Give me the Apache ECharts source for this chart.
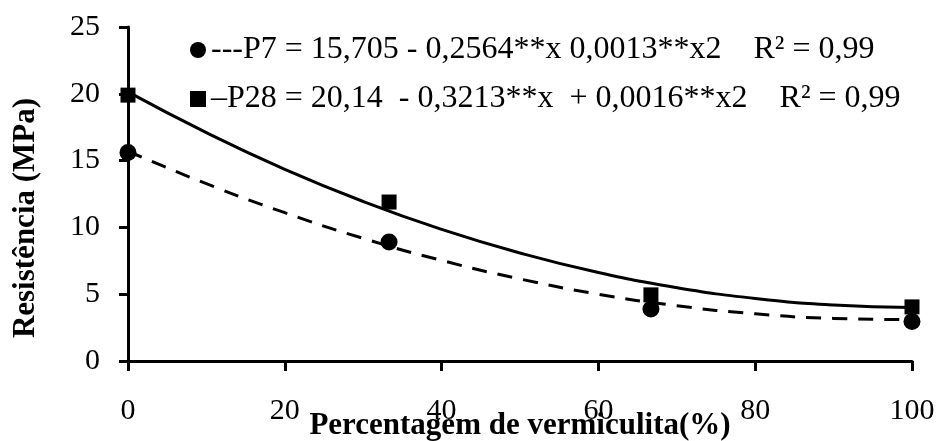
<!DOCTYPE html>
<html>
<head>
<meta charset="utf-8">
<script src="https://cdn.jsdelivr.net/npm/echarts@6/dist/echarts.min.js"></script>
<style>
  html, body { margin: 0; padding: 0; background: #fff; }
  #chart { width: 939px; height: 441px; }
</style>
</head>
<body>
<div id="chart"></div>
<script>
// pontos observados
var xObs = [0, 33.3, 66.7, 100]
var p7Obs = [15.6, 8.9, 3.9, 2.95]
var p28Obs = [19.9, 11.9, 4.95, 4.05]

// curvas de ajuste
var xFit = [0, 10, 20, 30, 40, 50, 60, 70, 80, 90, 100]
var p7Fit = [15.7, 13.27, 11.1, 9.18, 7.53, 6.14, 5.0, 4.14, 3.53, 3.19, 3.1]
var p28Fit = [20.14, 17.09, 14.35, 11.94, 9.85, 8.08, 6.62, 5.49, 4.68, 4.19, 4.01]

var legendText = {
  'P7': '---P7 = 15,705 - 0,2564**x 0,0013**x2    R² = 0,99',
  'P28': '\u2013P28 = 20,14  - 0,3213**x  + 0,0016**x2    R² = 0,99'
}

function pairs(xs, ys) {
  return xs.map(function (x, i) { return [x, ys[i]] })
}

var font = 'Liberation Serif'
var chart = echarts.init(document.getElementById('chart'), null, { renderer: 'canvas' })

var option = {
  animation: false,
  textStyle: { fontFamily: font, color: '#000' },
  grid: { left: 128, right: 27, top: 27, bottom: 80, containLabel: false, outerBoundsMode: 'none' },
  legend: {
    orient: 'vertical',
    left: 185,
    top: 29,
    itemGap: 17,
    itemWidth: 16,
    itemHeight: 16,
    data: [
      { name: 'P7', icon: 'circle' },
      { name: 'P28', icon: 'rect' }
    ],
    formatter: function (n) { return legendText[n] },
    textStyle: { fontFamily: font, fontSize: 32, color: '#000' }
  },
  xAxis: {
    type: 'value',
    min: 0, max: 100, interval: 20,
    name: 'Percentagem de vermiculita(%)',
    nameLocation: 'middle',
    nameGap: 49,
    nameMoveOverlap: false,
    nameTextStyle: { fontFamily: font, fontSize: 31, fontWeight: 'bold', color: '#000' },
    axisLine: { show: true, lineStyle: { color: '#000', width: 3 } },
    axisTick: { show: true, length: 10, inside: false, lineStyle: { color: '#000', width: 3 } },
    axisLabel: { margin: 35, fontFamily: font, fontSize: 30, color: '#000' },
    splitLine: { show: false }
  },
  yAxis: {
    type: 'value',
    min: 0, max: 25, interval: 5,
    name: 'Resistência (MPa)',
    nameLocation: 'middle',
    nameGap: 87,
    nameMoveOverlap: false,
    nameTextStyle: { fontFamily: font, fontSize: 31, fontWeight: 'bold', color: '#000', padding: [0, 48, 0, 0] },
    axisLine: { show: true, lineStyle: { color: '#000', width: 3 } },
    axisTick: { show: true, length: 9, lineStyle: { color: '#000', width: 3 } },
    axisLabel: { margin: 28, fontFamily: font, fontSize: 30, color: '#000' },
    splitLine: { show: false }
  },
  series: [
    {
      name: 'P7fit',
      type: 'line',
      data: pairs(xFit, p7Fit),
      smooth: true,
      showSymbol: false,
      lineStyle: { color: '#000', width: 3, type: [15, 11] },
      z: 2
    },
    {
      name: 'P28fit',
      type: 'line',
      data: pairs(xFit, p28Fit),
      smooth: true,
      showSymbol: false,
      lineStyle: { color: '#000', width: 3, type: 'solid' },
      z: 2
    },
    {
      name: 'P28',
      type: 'scatter',
      symbol: 'rect',
      symbolSize: 15,
      itemStyle: { color: '#000', opacity: 1 },
      data: pairs(xObs, p28Obs),
      z: 3
    },
    {
      name: 'P7',
      type: 'scatter',
      symbol: 'circle',
      symbolSize: 17,
      itemStyle: { color: '#000', opacity: 1 },
      data: pairs(xObs, p7Obs),
      z: 4
    }
  ]
}

chart.setOption(option)
</script>
</body>
</html>
